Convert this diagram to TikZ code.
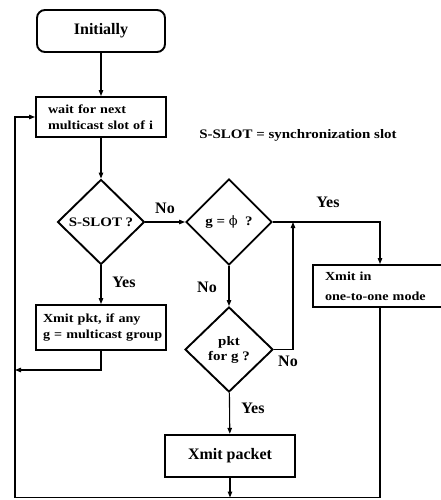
\documentclass[tikz,border=0pt]{standalone}
\usepackage{fontspec}
\setmainfont{Liberation Serif}
\newfontfamily\widefont[FakeStretch=1.15]{Liberation Serif}
\newfontfamily\symfont{DejaVu Serif}
\usetikzlibrary{shapes.geometric,arrows.meta}

\tikzset{
  big/.style={font=\fontsize{16}{18}\selectfont\bfseries},
  small/.style={font=\widefont\fontsize{12.3}{16}\selectfont\bfseries},
  note/.style={font=\widefont\fontsize{13}{15}\selectfont\bfseries},
  boxnode/.style={draw, line width=1.9pt, rectangle, inner ysep=0pt},
  decision/.style={draw, line width=1.9pt, diamond, inner sep=0pt, align=center, note},
  conn/.style={line width=1.1pt, -{Triangle[length=6pt,width=4.5pt]}},
  lbl/.style={big, inner sep=0pt}
}

\begin{document}
\begin{tikzpicture}[x=1pt,y=-1pt]
\useasboundingbox (0,0) rectangle (440,500);

% process boxes
\node[boxnode, big, rounded corners=8pt, minimum width=128pt, minimum height=42pt] (init) at (101,31) {Initially};
\node[boxnode, small, minimum width=130pt, minimum height=40pt, inner xsep=12pt, text width=106pt, align=left] (wait) at (101,117) {\mbox{wait for next}\\\mbox{multicast slot of i}};
\node[boxnode, small, minimum width=130pt, minimum height=45pt, inner xsep=7pt, text width=116pt, align=left] (xpkt) at (101,327.5) {\mbox{Xmit pkt, if any}\\\mbox{g = multicast group}};
% this box runs on past the right edge of the page
\node[boxnode, small, minimum width=134pt, minimum height=42pt, inner xsep=12pt, text width=110pt, align=left] (xin) at (380,286) {\mbox{Xmit in}\\[4pt]\mbox{one-to-one mode}};
\node[boxnode, big, line width=2.4pt, minimum width=130pt, minimum height=42pt] (xpacket) at (230,456) {Xmit packet};

% decisions
\node[decision, minimum width=87pt, minimum height=85pt] (sslot) at (101,222) {S-SLOT ?};
\node[decision, minimum width=86pt, minimum height=86pt] (gphi) at (229,222) {g = {\symfont\mdseries ϕ}\ \ ?};
\node[decision, minimum width=88pt, minimum height=85pt] (pktg) at (229,349.5) {pkt\\for g ?};

% legend
\node[note] (legend) at (298,135) {S-SLOT = synchronization slot};

% helper points for the return paths
\coordinate (bl) at (15,497.5);
\coordinate (tl) at (15,117);
\coordinate (jl) at (15,370);
\coordinate (jg) at (293,222);
\coordinate (jb) at (xpacket.south |- bl);

% connectors
\draw[conn] (init) -- (wait);
\draw[conn] (wait) -- (sslot);
\draw[conn] (sslot) -- (gphi);
\draw[conn] (sslot) -- (xpkt);
\draw[conn] (gphi.east) -| (xin.north);
\draw[conn] (gphi) -- (pktg);
\draw[conn] (pktg.east) -| (jg);
\draw[conn] (pktg) -- (xpacket);
\draw[conn] (xpacket) -- (jb);
\draw[conn] (xpkt.south) |- (jl);
\draw[conn] (xin.south) |- (bl) -- (tl) -- (wait.west |- tl);

% branch labels
\node[lbl] (l1) at (165,208) {No};
\node[lbl] (l2) at (124,282) {Yes};
\node[lbl] (l3) at (328,202) {Yes};
\node[lbl] (l4) at (207,287) {No};
\node[lbl] (l5) at (288,361) {No};
\node[lbl] (l6) at (253,408) {Yes};
\end{tikzpicture}
\end{document}
